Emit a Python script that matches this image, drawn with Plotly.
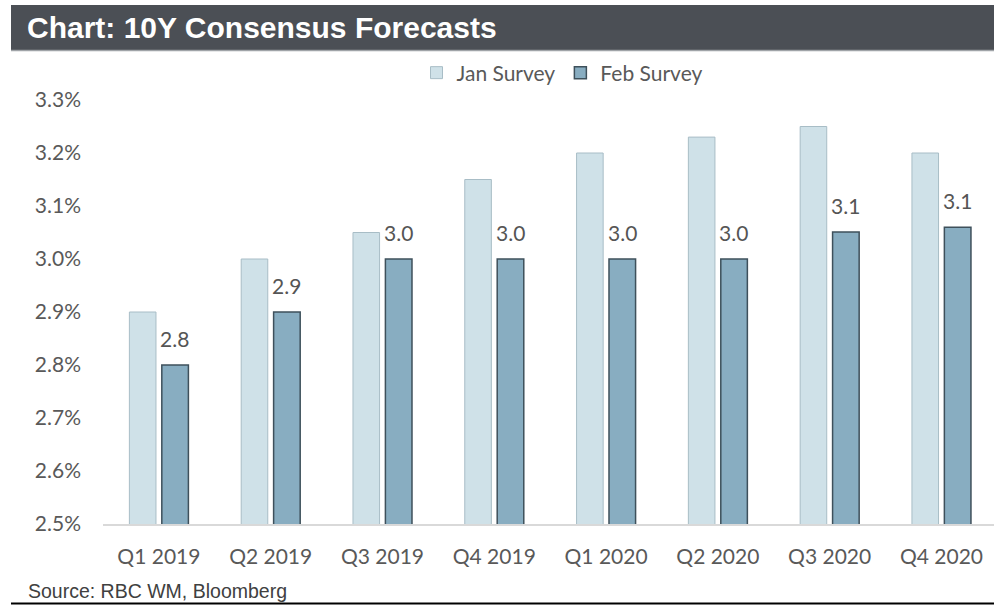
import plotly.graph_objects as go

# Quarterly 10Y yield consensus forecasts (%)
quarters = ["Q1 2019", "Q2 2019", "Q3 2019", "Q4 2019",
            "Q1 2020", "Q2 2020", "Q3 2020", "Q4 2020"]
jan_survey = [2.90, 3.00, 3.05, 3.15, 3.20, 3.23, 3.25, 3.20]
feb_survey = [2.80, 2.90, 3.00, 3.00, 3.00, 3.00, 3.051, 3.06]
y_ticks = [2.5, 2.6, 2.7, 2.8, 2.9, 3.0, 3.1, 3.2, 3.3]

W, H = 994, 608
ML, MR, MT, MB = 103, 0, 100, 84
PW, PH = W - ML - MR, H - MT - MB


def px_x(p):
    return (p - ML) / PW


def px_y(p):
    return (H - MB - p) / PH


AXIS_FONT = dict(family="Lato", size=21, color="#595959")

fig = go.Figure()
fig.add_trace(go.Bar(
    name="Jan Survey", x=quarters, y=jan_survey,
    marker=dict(color="#cfe1e8", line=dict(color="#a8bdc6", width=1)),
))
fig.add_trace(go.Bar(
    name="Feb Survey", x=quarters, y=feb_survey,
    marker=dict(color="#88adc1", line=dict(color="#3e505b", width=1.5)),
))

# value labels above the Feb bars
annotations = [
    dict(x=q, y=v, xref="x", yref="y", text=f"{v:.1f}", showarrow=False,
         xanchor="center", yanchor="bottom", xshift=16, yshift=12,
         font=dict(family="Lato", size=21, color="#555555"))
    for q, v in zip(quarters, feb_survey)
]
annotations.append(dict(
    x=px_x(26), y=px_y(591), xref="paper", yref="paper",
    text="Source: RBC WM, Bloomberg", showarrow=False,
    xanchor="left", yanchor="middle",
    font=dict(family="Liberation Sans", size=19.5, color="#404040"),
))

shapes = [
    # header band
    dict(type="rect", xref="paper", yref="paper",
         x0=px_x(11), x1=px_x(996), y0=px_y(50), y1=px_y(5),
         fillcolor="#4b4f55", line=dict(width=0), layer="below"),
    dict(type="line", xref="paper", yref="paper",
         x0=px_x(11), x1=px_x(996), y0=px_y(50.5), y1=px_y(50.5),
         line=dict(color="#a0a4a8", width=1.5)),
    # footer rule
    dict(type="line", xref="paper", yref="paper",
         x0=px_x(11), x1=px_x(996), y0=px_y(603.5), y1=px_y(603.5),
         line=dict(color="#000000", width=2)),
]

fig.update_layout(
    width=W, height=H, autosize=False,
    margin=dict(l=ML, r=MR, t=MT, b=MB, pad=0, autoexpand=False),
    paper_bgcolor="white", plot_bgcolor="white",
    barmode="group", bargap=0.42, bargroupgap=0.18,
    title=dict(text="<b>Chart: 10Y Consensus Forecasts</b>",
               xref="container", yref="container",
               x=27 / W, y=1 - 27.5 / H, xanchor="left", yanchor="middle",
               font=dict(family="Liberation Sans", size=30, color="white")),
    legend=dict(orientation="h", xref="container", yref="container",
                x=562 / W, y=1 - 73 / H, xanchor="center", yanchor="middle",
                font=AXIS_FONT, itemwidth=30, traceorder="normal",
                bgcolor="rgba(0,0,0,0)"),
    xaxis=dict(type="category", range=[-0.5, 7.47], showgrid=False,
               showline=True, linecolor="#d9d9d9", linewidth=1.5,
               ticks="", tickfont=AXIS_FONT, ticklabelstandoff=13,
               zeroline=False, fixedrange=True, automargin=False),
    yaxis=dict(range=[2.5, 3.3], tickvals=y_ticks,
               ticktext=[f"{v:.1f}%" for v in y_ticks],
               showgrid=False, showline=False, zeroline=False, ticks="",
               tickfont=AXIS_FONT, ticklabelstandoff=21, fixedrange=True,
               automargin=False),
    annotations=annotations,
    shapes=shapes,
    showlegend=True,
)

fig.write_html("out.html")
